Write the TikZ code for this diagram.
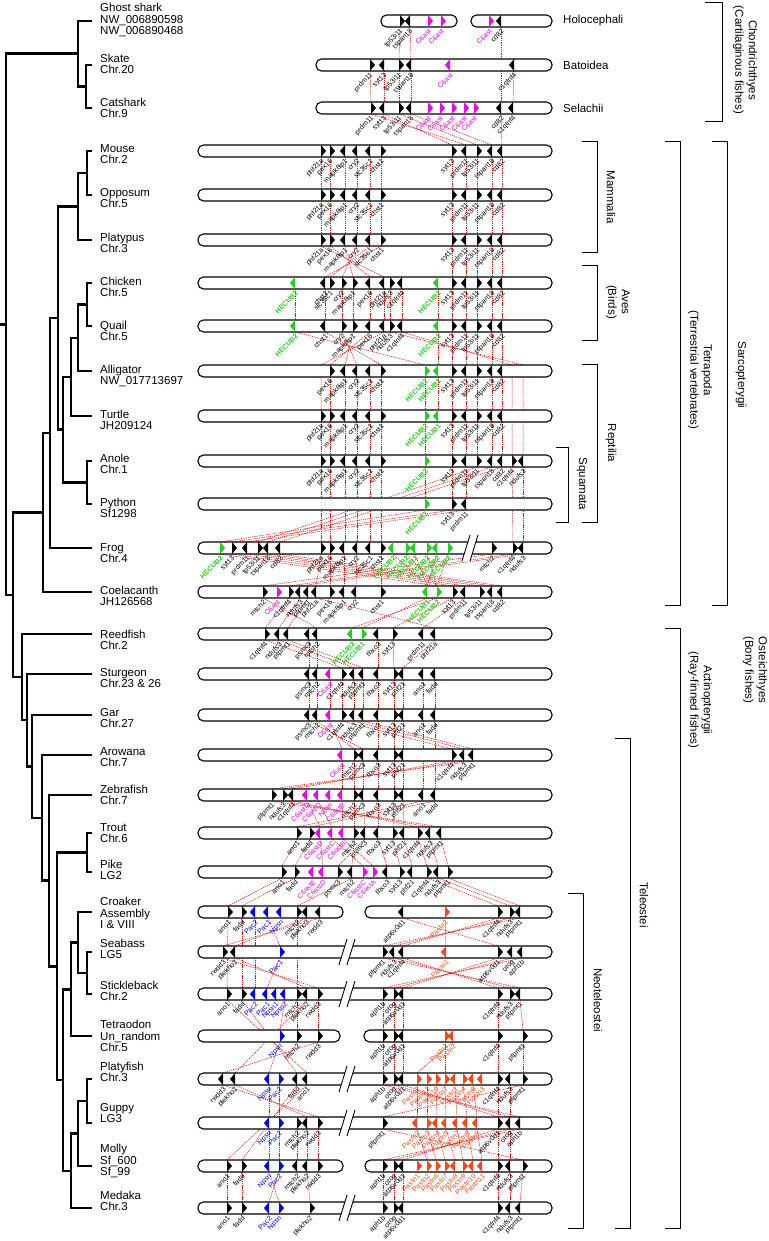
\documentclass[tikz,border=0pt]{standalone}
\usepackage{fontspec}
\setmainfont{Liberation Sans}
\definecolor{mag}{RGB}{240,0,240}
\definecolor{grn}{RGB}{30,210,30}
\definecolor{blu}{RGB}{0,0,255}
\definecolor{org}{RGB}{255,70,20}
\tikzset{
 tree/.style={line width=2.5pt},
 barst/.style={draw=black, fill=white, line width=1.1pt, rounded corners=5.5pt},
 cn/.style={red, line width=0.5pt, dash pattern=on 1.3pt off 0.9pt},
 glab/.style={font=\fontsize{7}{7}\selectfont, rotate=45, anchor=east, inner sep=0.3pt},
 sp/.style={font=\fontsize{11.5}{11.7}\selectfont, anchor=west, align=left, inner sep=0pt},
 grp/.style={font=\fontsize{11.5}{13.5}\selectfont, inner sep=0pt, align=center, rotate=-90},
 grh/.style={font=\fontsize{11.5}{11.7}\selectfont, inner sep=0pt, anchor=west},
 brk/.style={line width=1pt},
}
\newcommand{\gene}[4]{\fill[#2] (#3,\RY-6) -- (#3#1,\RY) -- (#3,\RY+6) -- cycle; \node[glab,text=#2] at (#3+2,\RY+9) {#4};}
\newcommand{\gR}[2]{\gene{+5}{black}{#1}{#2}}
\newcommand{\gL}[2]{\gene{-5}{black}{#1}{#2}}
\newcommand{\cR}[3]{\gene{+5}{#1}{#2}{#3}}
\newcommand{\cL}[3]{\gene{-5}{#1}{#2}{#3}}
\newcommand{\chb}[2]{\draw[barst] (#1,\RY-6) rectangle (#2,\RY+6);}
\newcommand{\brkm}[1]{\fill[white] (#1-8,\RY+13) -- (#1,\RY-13) -- (#1+8,\RY-13) -- (#1,\RY+13) -- cycle; \draw[line width=0.9pt] (#1-8,\RY+13) -- (#1,\RY-13) (#1,\RY+13) -- (#1+8,\RY-13);}
\newcommand{\lk}[2]{\draw[cn] (#1,\LA+6) -- (#2,\LB-6);}
\newcommand{\lkk}[4]{\draw[cn] (#2,#1+6) -- (#4,#3-6);}
\newcommand{\clade}[5]{\draw[tree] (#4,#2) -- (#1,#2) -- (#1,#3) -- (#5,#3);}
\newcommand{\mamgenes}{\gR{321}{phf21a}\gR{330}{pex16}\gL{345}{mapk8ip1}\gL{357}{cry2}\gL{370}{slc35c1}\gR{381}{chst1}\gR{452}{syt13}\gL{466}{prdm11}\gR{477}{tp53i11}\gL{492}{tspan18}\gL{502}{cd82}}
\newcommand{\tailgenes}{\gR{452}{syt13}\gL{466}{prdm11}\gR{477}{tp53i11}\gL{492}{tspan18}\gL{502}{cd82}}
\newcommand{\HB}[1]{\textbf{HECUB#1}}
\begin{document}
\begin{tikzpicture}[x=1pt,y=-1pt]
\useasboundingbox (0,0) rectangle (768,1241);
% ---------------- tree ----------------
\draw[tree] (0,324.3) -- (6,324.3);
\clade{86}{65}{108}{92}{92}
\clade{78}{21}{86.5}{92}{86}
\clade{87}{151}{195}{92}{92}
\clade{78}{173}{240}{87}{92}
\clade{87}{283}{326}{92}{92}
\clade{78}{304.5}{371}{87}{92}
\clade{71}{337.75}{416}{78}{92}
\clade{87}{461}{504}{92}{92}
\clade{63}{376.9}{482.5}{71}{87}
\clade{58}{206.5}{429.7}{78}{63}
\clade{50}{318.1}{548}{58}{92}
\clade{43}{433}{592}{50}{92}
\clade{87}{833}{872}{92}{92}
\clade{87}{952}{994}{92}{92}
\clade{78}{912}{973}{92}{87}
\clade{71}{942.5}{1036}{78}{92}
\clade{87}{1079}{1123}{92}{92}
\clade{78}{1101}{1166}{87}{92}
\clade{71}{1133.5}{1208}{78}{92}
\clade{63}{989.25}{1170.75}{71}{71}
\clade{57}{852.5}{1080}{87}{63}
\clade{49}{795}{966.25}{92}{57}
\clade{42}{755}{880.6}{92}{49}
\clade{32}{715}{817.8}{92}{42}
\clade{27}{674}{766.4}{92}{32}
\clade{22}{634}{720.2}{92}{27}
\clade{13}{512.5}{677.1}{43}{22}
\clade{6}{53.75}{594.8}{78}{13}
% ---------------- species labels ----------------
\node[sp] (l1) at (100,20) {Ghost shark\\NW\_006890598\\NW\_006890468};
\node[sp] (l2) at (100,64) {Skate\\Chr.20};
\node[sp] (l3) at (100,108) {Catshark\\Chr.9};
\node[sp] (l4) at (100,154) {Mouse\\Chr.2};
\node[sp] (l5) at (100,198) {Opposum\\Chr.5};
\node[sp] (l6) at (100,243) {Platypus\\Chr.3};
\node[sp] (l7) at (100,287) {Chicken\\Chr.5};
\node[sp] (l8) at (100,331) {Quail\\Chr.5};
\node[sp] (l9) at (100,376) {Alligator\\NW\_017713697};
\node[sp] (l10) at (100,420) {Turtle\\JH209124};
\node[sp] (l11) at (100,464) {Anole\\Chr.1};
\node[sp] (l12) at (100,508) {Python\\Sf1298};
\node[sp] (l13) at (100,553) {Frog\\Chr.4};
\node[sp] (l14) at (100,596) {Coelacanth\\JH126568};
\node[sp] (l15) at (100,640) {Reedfish\\Chr.2};
\node[sp] (l16) at (100,678) {Sturgeon\\Chr.23 \& 26};
\node[sp] (l17) at (100,718) {Gar\\Chr.27};
\node[sp] (l18) at (100,757) {Arowana\\Chr.7};
\node[sp] (l19) at (100,795) {Zebrafish\\Chr.7};
\node[sp] (l20) at (100,833) {Trout\\Chr.6};
\node[sp] (l21) at (100,870) {Pike\\LG2};
\node[sp] (l22) at (100,913) {Croaker\\Assembly\\I \& VIII};
\node[sp] (l23) at (100,949) {Seabass\\LG5};
\node[sp] (l24) at (100,991) {Stickleback\\Chr.2};
\node[sp] (l25) at (100,1036) {Tetraodon\\Un\_random\\Chr.5};
\node[sp] (l26) at (100,1072) {Platyfish\\Chr.3};
\node[sp] (l27) at (100,1113) {Guppy\\LG3};
\node[sp] (l28) at (100,1161) {Molly\\Sf\_600\\Sf\_99};
\node[sp] (l29) at (100,1201) {Medaka\\Chr.3};
% ---------------- connectors ----------------
\def\LA{21}\def\LB{65}\lk{400}{399}\lk{410}{411}
\lkk{21}{501}{108}{501}
\def\LA{65}\def\LB{108}\lk{370}{371}\lk{384}{384}\lk{399}{399}\lk{411}{411}\lk{514}{513}
\def\LA{108}\def\LB{151}\lk{371}{466}\lk{384}{452}\lk{399}{477}\lk{411}{492}\lk{501}{502}
\def\LA{151}\def\LB{195}\foreach \x in {321,330,345,357,370,381,452,466,477,492,502}{\lk{\x}{\x}}
\def\LA{195}\def\LB{240}\foreach \x in {321,330,345,357,370,381,452,466,477,492,502}{\lk{\x}{\x}}
\def\LA{240}\def\LB{283}\lk{321}{384}\lk{330}{370}\lk{345}{353}\lk{357}{342}\lk{370}{330}\lk{381}{325}\foreach \x in {452,466,477,492,502}{\lk{\x}{\x}}
\def\LA{283}\def\LB{326}\foreach \x in {295,325,342,353,370,384,390,402,438,452,466,477,492,502}{\lk{\x}{\x}}
\def\LA{326}\def\LB{371}\lk{325}{381}\lk{342}{357}\lk{353}{345}\lk{370}{330}\lk{295}{425}\foreach \x in {438,452,466,477,492,502}{\lk{\x}{\x}}
\draw[cn] (384,332) -- (321,365) -- (321,410);
\draw[cn] (390,332) -- (523,365) -- (523,455);
\draw[cn] (402,332) -- (512,365) -- (512,455);
\def\LA{371}\def\LB{416}\foreach \x in {330,345,357,370,381,425,438,452,466,477,492,502}{\lk{\x}{\x}}
\def\LA{416}\def\LB{461}\foreach \x in {321,330,345,357,370,381,425,452,466,477,492,502}{\lk{\x}{\x}}
\def\LA{461}\def\LB{504}\lk{425}{425}\lk{452}{452}\lk{466}{466}
\def\LA{461}\def\LB{548}\foreach \x in {321,330,345,357,370,381}{\lk{\x}{\x}}\lk{477}{258}\lk{492}{268}\lk{502}{280}\lk{512}{513}\lk{523}{523}
\def\LA{504}\def\LB{548}\lk{425}{220}\lk{452}{232}\lk{466}{247}
\def\LA{548}\def\LB{592}\lk{220}{437}\lk{232}{453}\lk{247}{465}\lk{258}{480}\lk{268}{492}\lk{280}{502}\lk{321}{316}\lk{330}{330}\lk{344}{344}\lk{357}{356}\lk{381}{381}\lk{393}{427}\lk{406}{437}\lk{415}{427}\lk{427}{437}\lk{437}{427}\lk{448}{437}\lk{492}{263}\lk{513}{289}\lk{523}{300}
\def\LA{592}\def\LB{634}\lk{263}{317}\lk{289}{265}\lk{300}{279}\lk{308}{288}\lk{316}{435}\lk{427}{362}\lk{437}{352}\lk{453}{393}\lk{465}{423}
\def\LA{634}\def\LB{674}\lk{265}{342}\lk{279}{354}\lk{288}{363}\lk{309}{309}\lk{317}{317}\lk{378}{378}\lk{393}{394}\lk{435}{403}
\def\LA{674}\def\LB{715}\foreach \x in {309,317,330,342,354,363,378,394,403,423,435}{\lk{\x}{\x}}
\def\LA{715}\def\LB{755}\lk{309}{363}\lk{317}{354}\lk{330}{342}\lk{342}{452}\lk{354}{464}\lk{363}{473}\lk{378}{378}\lk{394}{394}\lk{403}{403}
\lkk{715}{423}{795}{423}\lkk{715}{435}{795}{435}
\def\LA{755}\def\LB{795}\lk{342}{342}\lk{354}{354}\lk{363}{363}\lk{378}{378}\lk{394}{394}\lk{403}{403}\lk{452}{293}\lk{464}{283}\lk{473}{272}
\def\LA{795}\def\LB{833}\lk{272}{441}\lk{283}{430}\lk{293}{418}\lk{307}{320}\lk{318}{332}\lk{342}{343}\lk{354}{354}\lk{363}{365}\lk{378}{378}\lk{394}{393}\lk{403}{404}\lk{423}{297}\lk{435}{310}
\def\LA{833}\def\LB{872}\lk{297}{282}\lk{310}{295}\lk{320}{323}\lk{332}{363}\lk{343}{373}\lk{354}{352}\lk{365}{338}\lk{378}{387}\lk{393}{400}\lk{404}{412}\lk{418}{427}\lk{430}{438}\lk{441}{448}
\def\LA{872}\def\LB{912}\lk{282}{228}\lk{295}{242}\lk{352}{297}\lk{427}{498}\lk{438}{510}\lk{448}{520}
\def\LA{912}\def\LB{952}\lk{320}{223}\lk{307}{235}\lk{268}{280}\lk{403}{498}\lk{445}{446}\lk{498}{403}\lk{510}{394}\lk{520}{383}
\lkk{912}{228}{994}{227}\lkk{912}{242}{994}{242}\lkk{912}{297}{994}{297}\lkk{912}{255}{994}{255}
\def\LA{952}\def\LB{994}\lk{223}{318}\lk{235}{307}\lk{280}{267}\lk{383}{520}\lk{394}{510}\lk{403}{498}\lk{498}{403}\lk{512}{394}\lk{522}{383}
\def\LA{994}\def\LB{1036}\lk{285}{280}\lk{297}{297}\lk{318}{318}\lk{383}{383}\lk{394}{394}\lk{403}{403}\lk{498}{498}\lk{520}{523}
\lkk{994}{227}{1079}{307}\lkk{994}{242}{1079}{297}\lkk{994}{307}{1079}{235}
\def\LA{1036}\def\LB{1079}\lk{280}{269}\lk{318}{223}\lk{383}{383}\lk{394}{394}\lk{403}{403}\lk{498}{498}\lk{523}{523}\lk{445}{445}\lk{453}{417}
\def\LA{1079}\def\LB{1123}\lk{223}{318}\lk{235}{307}\lk{269}{269}\lk{279}{279}\lk{383}{520}\lk{394}{510}\lk{403}{498}\lk{523}{383}\lk{417}{417}\lk{427}{427}\lk{436}{437}\lk{445}{446}\lk{455}{457}\lk{463}{467}\lk{473}{477}
\lkk{1079}{297}{1166}{242}\lkk{1079}{307}{1166}{227}\lkk{1079}{498}{1166}{498}\lkk{1079}{510}{1166}{510}
\def\LA{1123}\def\LB{1166}\foreach \x in {269,279,297,307,318}{\lk{\x}{\x}}\lk{383}{523}\lk{498}{403}\lk{510}{394}\lk{520}{383}\lk{417}{427}\lk{427}{436}\lk{437}{445}\lk{446}{455}\lk{457}{463}\lk{467}{473}\lk{477}{482}
\def\LA{1166}\def\LB{1208}\lk{227}{227}\lk{242}{242}\lk{269}{279}\lk{279}{269}\lk{307}{310}\foreach \x in {383,394,403,498,510}{\lk{\x}{\x}}\lk{523}{520}
% ---------------- chromosomes ----------------
\def\RY{21}\chb{381}{457}\chb{471}{552}
\gR{400}{tp53i11}\gL{410}{tspan18}\cR{mag}{428}{C6ast}\cR{mag}{441}{C6ast}\cR{mag}{489}{C6ast}\gL{501}{cd82}
\def\RY{65}\chb{316}{552}
\gR{370}{prdm11}\gL{384}{syt13}\gR{399}{tp53i11}\gL{411}{tspan18}\cL{mag}{450}{C6ast}\gL{514}{c1qtnf4}
\def\RY{108}\chb{316}{552}
\gR{371}{prdm11}\gL{384}{syt13}\gR{399}{tp53i11}\gL{411}{tspan18}\cR{mag}{428}{C6ast}\cR{mag}{440}{C6ast}\cR{mag}{452}{C6ast}\cR{mag}{464}{C6ast}\cR{mag}{474}{C6ast}\gL{501}{cd82}\gL{513}{c1qtnf4}
\def\RY{151}\chb{198}{552}\mamgenes
\def\RY{195}\chb{198}{552}\mamgenes
\def\RY{240}\chb{198}{552}\mamgenes
\def\RY{283}\chb{198}{552}
\cL{grn}{295}{\HB2}\gL{325}{chst1}\gR{330}{slc35c1}\gR{342}{cry2}\gR{353}{mapk8ip1}\gL{370}{pex16}\gL{384}{phf21a}\gR{390}{ndufs3}\gL{402}{c1qtnf4}\cL{grn}{438}{\HB1}\tailgenes
\def\RY{326}\chb{198}{552}
\cL{grn}{295}{\HB2}\gL{325}{chst1}\gR{342}{cry2}\gR{353}{mapk8ip1}\gL{370}{pex16}\gL{384}{phf21a}\gR{390}{ndufs3}\gL{402}{c1qtnf4}\cL{grn}{438}{\HB1}\tailgenes
\def\RY{371}\chb{198}{552}
\gR{330}{pex16}\gL{345}{mapk8ip1}\gL{357}{cry2}\gL{370}{slc35c1}\gR{381}{chst1}\cR{grn}{425}{\HB2}\cL{grn}{438}{\HB1}\tailgenes
\def\RY{416}\chb{198}{552}
\gR{321}{phf21a}\gR{330}{pex16}\gL{345}{mapk8ip1}\gL{357}{cry2}\gL{370}{slc35c1}\gR{381}{chst1}\cR{grn}{425}{\HB2}\cL{grn}{438}{\HB1}\tailgenes
\def\RY{461}\chb{198}{552}
\gR{321}{phf21a}\gR{330}{pex16}\gL{345}{mapk8ip1}\gL{357}{cry2}\gL{370}{slc35c1}\gR{381}{chst1}\cR{grn}{425}{\HB2}\tailgenes\gR{512}{c1qtnf4}\gL{523}{ndufs3}
\def\RY{504}\chb{198}{552}
\cR{grn}{425}{\HB2}\gR{452}{syt13}\gL{466}{prdm11}
\def\RY{548}\chb{198}{552}\brkm{470}
\cR{grn}{220}{\HB2}\gR{232}{syt13}\gL{247}{prdm11}\gR{258}{tp53i11}\gL{268}{tspan18}\gL{280}{cd82}\gR{321}{phf21a}\gR{330}{pex16}\gL{344}{mapk8ip1}\gL{357}{cry2}\gL{370}{slc35c1}\gR{381}{chst1}\cL{grn}{393}{\HB2}\cR{grn}{406}{\HB2}\cL{grn}{415}{\HB2}\cR{grn}{427}{\HB2}\cL{grn}{437}{\HB2}\cR{grn}{448}{\HB2}\gR{492}{mtch2}\gR{513}{c1qtnf4}\gL{523}{ndufs3}
\def\RY{592}\chb{198}{552}
\gR{263}{mtch2}\cR{mag}{277}{C6ast}\gR{289}{c1qtnf4}\gL{300}{ndufs3}\gL{308}{ptpmt1}\gL{316}{phf21a}\gR{330}{pex16}\gL{344}{mapk8ip1}\gL{356}{cry2}\gR{381}{chst1}\cL{grn}{427}{\HB1}\cR{grn}{437}{\HB2}\gR{453}{syt13}\gL{465}{prdm11}\gR{480}{tp53i11}\gL{492}{tspan18}\gL{502}{cd82}
\def\RY{634}\chb{198}{552}
\gR{265}{c1qtnf4}\gL{279}{ndufs3}\gL{288}{ptpmt1}\gL{309}{psmc3}\gL{317}{mtch2}\cL{grn}{352}{\HB2}\cR{grn}{362}{\HB1}\gL{378}{fbxo3}\gR{393}{syt13}\gL{423}{prdm11}\gL{435}{phf21a}
\def\RY{674}\chb{198}{552}
\gL{309}{psmc3}\gL{317}{mtch2}\cL{mag}{330}{C6ast}\gR{342}{c1qtnf4}\gL{354}{ndufs3}\gL{363}{ptpmt1}\gL{378}{fbxo3}\gR{394}{syt13}\gL{403}{phf21}\gL{423}{ano1}\gL{435}{fadd}
\def\RY{715}\chb{198}{552}
\gL{309}{psmc3}\gL{317}{mtch2}\cL{mag}{330}{C6ast}\gR{342}{c1qtnf4}\gL{354}{ndufs3}\gL{363}{ptpmt1}\gL{378}{fbxo3}\gR{394}{syt13}\gL{403}{phf21}\gL{423}{ano1}\gL{435}{fadd}
\def\RY{755}\chb{198}{552}
\cL{mag}{342}{C6ast}\gR{354}{mtch2}\gL{363}{psmc3}\gL{378}{fbxo3}\gR{394}{syt13}\gL{403}{phf21}\gR{452}{c1qtnf4}\gL{464}{ndufs3}\gL{473}{ptpmt1}
\def\RY{795}\chb{198}{552}
\gR{272}{ptpmt1}\gR{283}{ndufs3}\gL{293}{c1qtnf4}\cL{mag}{307}{C6astD}\cL{mag}{318}{C6astC}\cL{mag}{330}{Npsn}\cL{mag}{342}{C6astB}\gR{354}{mtch2}\gL{363}{psmc3}\gL{378}{fbxo3}\gR{394}{syt13}\gL{403}{phf21}\gL{423}{ano1}\gL{435}{fadd}
\def\RY{833}\chb{198}{552}
\gR{297}{ano1}\gR{310}{fadd}\cL{mag}{320}{C6astD}\cL{mag}{332}{C6astC}\cL{mag}{343}{C6astB}\gR{354}{mtch2}\gL{365}{psmc3}\gL{378}{fbxo3}\gR{393}{syt13}\gL{404}{phf21}\gR{418}{c1qtnf4}\gL{430}{ndufs3}\gL{441}{ptpmt1}
\def\RY{872}\chb{198}{552}
\gR{282}{ano1}\gR{295}{fadd}\cL{mag}{313}{C6astE}\cL{mag}{323}{C6astD}\gR{338}{psmc3}\gL{352}{mtch2}\cR{mag}{363}{C6astC}\cR{mag}{373}{C6astA}\gL{387}{fbxo3}\gR{400}{syt13}\gL{412}{phf21}\gR{427}{c1qtnf4}\gL{438}{ndufs3}\gR{448}{ptpmt1}
\def\RY{912}\chb{198}{343}\chb{365}{552}
\gR{228}{ano1}\gR{242}{fadd}\cL{blu}{255}{Pac2}\cL{blu}{268}{Pac1}\cL{blu}{281}{Npsn}\gR{297}{mtch2}\gL{307}{plekho2}\gL{320}{rwdd3}\gL{403}{atp6v0d1}\cR{org}{445}{Pastn1}\gR{498}{c1qtnf4}\gR{510}{ndufs3}\gL{520}{ptpmt1}
\def\RY{952}\chb{198}{552}\brkm{347}
\gR{223}{rwdd3}\gL{235}{plekho2}\cR{blu}{280}{Pac1}\gR{383}{ptpmt1}\gL{394}{ndufs3}\gL{403}{c1qtnf4}\cL{org}{446}{Pastn1}\gR{498}{atp6v0d1}\gL{512}{otog}\gL{522}{aph1b}
\def\RY{994}\chb{198}{552}\brkm{347}
\gR{227}{ano1}\gR{242}{fadd}\cL{blu}{255}{Pac2}\cL{blu}{267}{Pac1}\cL{blu}{276}{Npsn1}\cL{blu}{285}{Npsn2}\gR{297}{mtch2}\gL{307}{plekho2}\gR{318}{rwdd3}\gR{383}{aph1b}\gR{394}{otog}\gL{403}{atp6v0d1}\gR{498}{c1qtnf4}\gR{510}{ndufs3}\gL{520}{ptpmt1}
\def\RY{1036}\chb{198}{340}\chb{364}{552}
\cR{blu}{280}{Npsn}\gR{297}{mtch2}\gR{318}{rwdd3}\gR{383}{aph1b}\gR{394}{otog}\gL{403}{atp6v0d1}\cR{org}{445}{Pastn1}\cL{org}{453}{Pastn2}\gR{498}{c1qtnf4}\gR{523}{ptpmt1}
\def\RY{1079}\chb{198}{552}\brkm{347}
\gL{223}{rwdd3}\gL{235}{plekho2}\cL{blu}{269}{Npsn}\cR{blu}{279}{Pac2}\gL{297}{fadd}\gL{307}{ano1}\gR{383}{aph1b}\gR{394}{otog}\gL{403}{atp6v0d1}\cR{org}{417}{Pastn2}\cR{org}{427}{Pastn11}\cR{org}{436}{Pastn10}\cR{org}{445}{Pastn7}\cL{org}{455}{Pastn1}\cR{org}{463}{Pastn4}\cL{org}{473}{Pastn6}\cL{org}{482}{Pastn3}\gR{498}{c1qtnf4}\gL{510}{ndufs3}\gR{523}{ptpmt1}
\def\RY{1123}\chb{198}{552}\brkm{347}
\cL{blu}{269}{Npsn}\cR{blu}{279}{Pac2}\gR{297}{mtch2}\gL{307}{plekho2}\gR{318}{rwdd3}\gR{383}{ptpmt1}\cL{org}{417}{Pastn2}\cR{org}{427}{Pastn3}\cL{org}{437}{Pastn4}\cL{org}{446}{Pastn5}\cL{org}{457}{Pastn7}\cL{org}{467}{Pastn8}\cL{org}{477}{Pastn9}\gR{498}{atp6v0d1}\gL{510}{otog}\gL{520}{aph1b}
\def\RY{1166}\chb{198}{343}\chb{365}{552}
\gR{227}{ano1}\gR{242}{fadd}\cL{blu}{269}{Npsn}\cR{blu}{279}{Pac2}\gL{297}{mtch2}\gL{307}{plekho2}\gR{318}{rwdd3}\gR{383}{aph1b}\gR{394}{otog}\gL{403}{atp6v0d1}\cR{org}{417}{Pastn1}\cR{org}{427}{Pastn2}\cR{org}{436}{Pastn6}\cR{org}{445}{Pastn7}\cL{org}{455}{Pastn8}\cR{org}{463}{Pastn9}\cL{org}{473}{Pastn10}\cL{org}{482}{Pastn11}\gR{498}{c1qtnf4}\gL{510}{ndufs3}\gR{523}{ptpmt1}
\def\RY{1208}\chb{198}{552}\brkm{347}
\gR{227}{ano1}\gR{242}{fadd}\cL{blu}{269}{Pac2}\cR{blu}{279}{Npsn}\gR{310}{plekho2}\gR{383}{aph1b}\gR{394}{otog}\gL{403}{atp6v0d1}\gR{498}{c1qtnf4}\gL{510}{ndufs3}\gL{520}{ptpmt1}
% ---------------- group labels ----------------
\node[grh] (h1) at (563,21) {Holocephali};
\node[grh] (h2) at (563,65) {Batoidea};
\node[grh] (h3) at (563,108) {Selachii};
\draw[brk] (705,3) -- (722,3) -- (722,122) -- (705,122);
\node[grp] (g1) at (745,60) {Chondrichthyes\\(Cartilaginous fishes)};
\draw[brk] (582,142) -- (597,142) -- (597,253) -- (582,253);
\node[grp] (g3) at (611,197) {Mammalia};
\draw[brk] (582,265) -- (597,265) -- (597,340) -- (582,340);
\node[grp] (g4) at (618,302) {Aves\\(Birds)};
\draw[brk] (582,364) -- (597,364) -- (597,522) -- (582,522);
\node[grp] (g6) at (611,443) {Reptilia};
\draw[brk] (556,447) -- (568,447) -- (568,522) -- (556,522);
\node[grp] (g7) at (582,484) {Squamata};
\draw[brk] (665,142) -- (680,142) -- (680,605) -- (665,605);
\node[grp] (g8) at (700,370) {Tetrapoda\\(Terrestrial vertebrates)};
\draw[brk] (712,142) -- (727,142) -- (727,605) -- (712,605);
\node[grp] (g10) at (741,375) {Sarcopterygii};
\draw[brk] (665,628) -- (680,628) -- (680,1228) -- (665,1228);
\node[grp] (g11) at (700,700) {Actinopterygii\\(Ray-finned fishes)};
\draw[brk] (615,738) -- (630,738) -- (630,1228) -- (615,1228);
\node[grp] (g13) at (644,905) {Teleostei};
\draw[brk] (568,893) -- (583,893) -- (583,1228) -- (568,1228);
\node[grp] (g14) at (598,1000) {Neoteleostei};
\node[grp] (g15) at (755,670) {Osteichthyes\\(Bony fishes)};
\end{tikzpicture}
\end{document}
